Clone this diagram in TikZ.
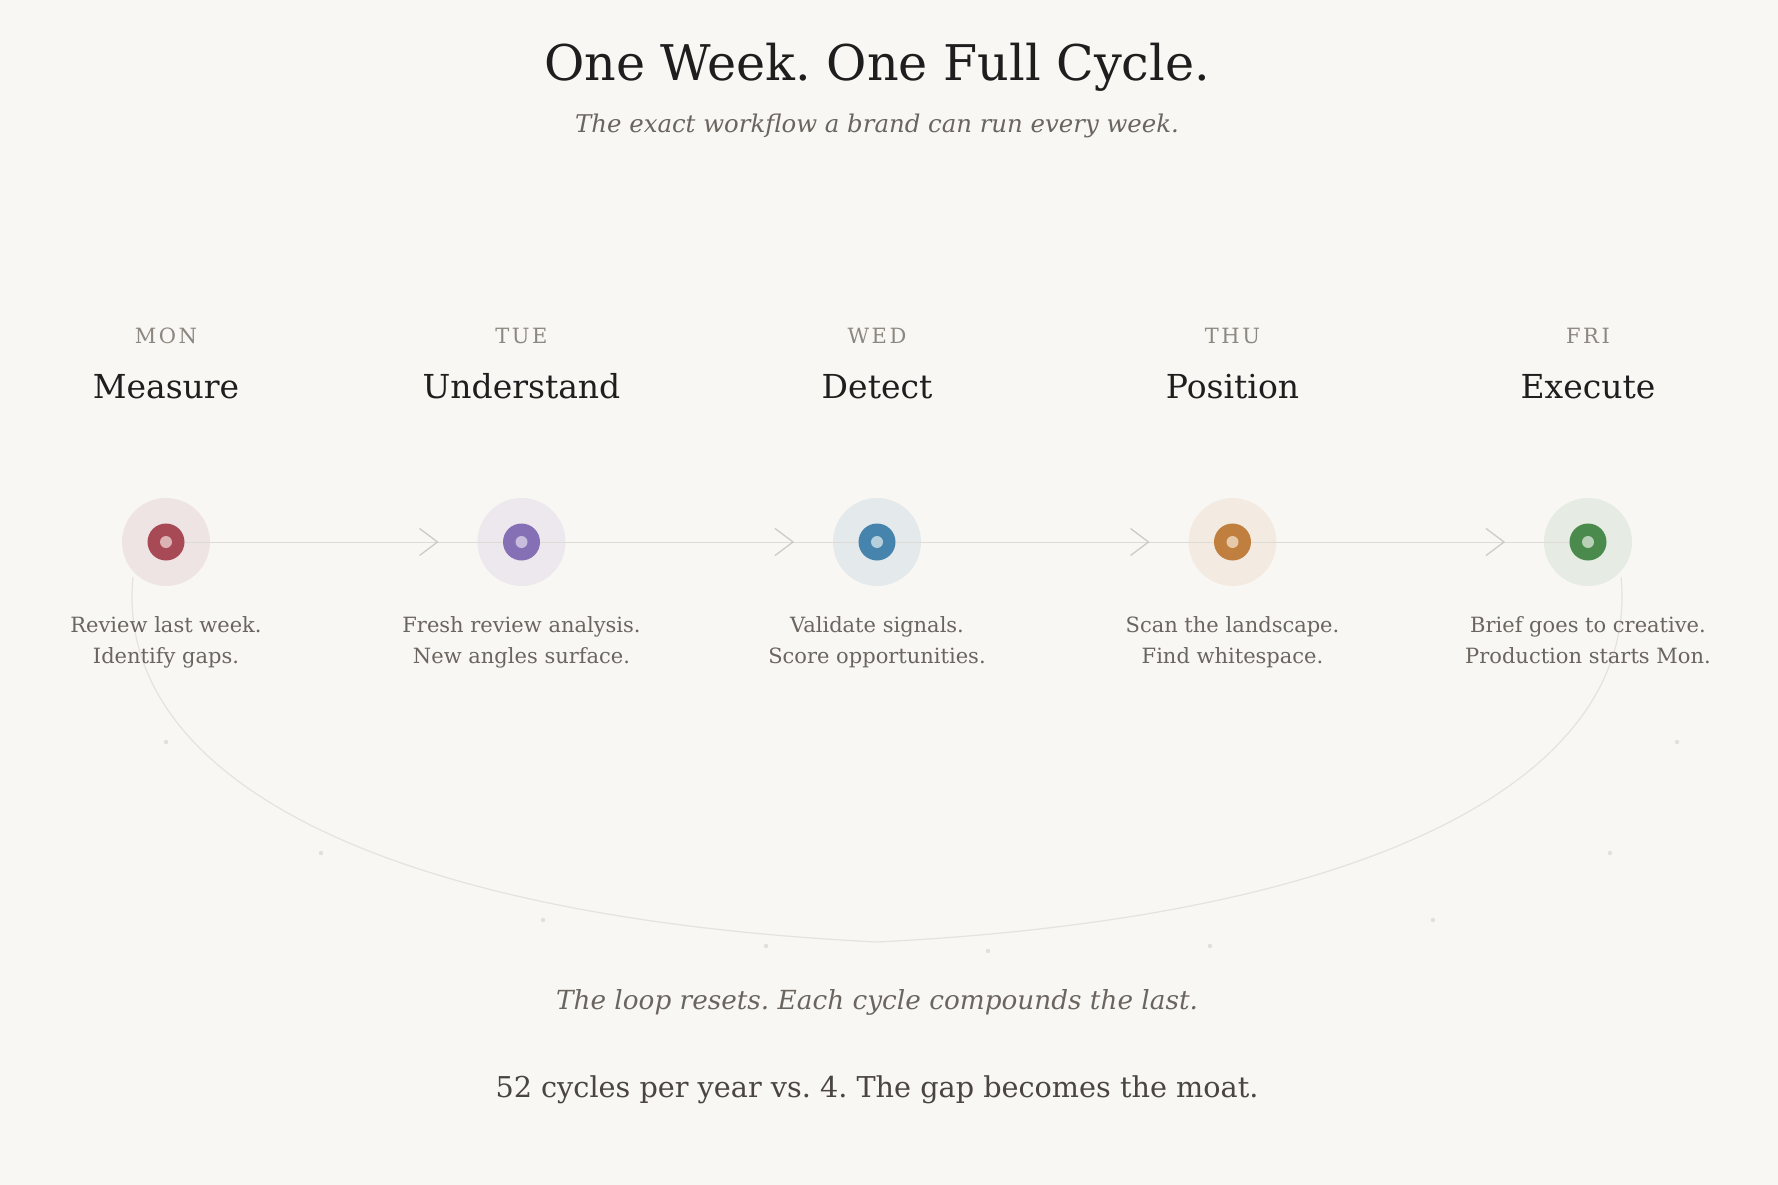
\documentclass[tikz,border=0pt]{standalone}
\usepackage{fontspec}
\setmainfont{DejaVu Serif}
\newfontfamily\dayfont[LetterSpace=12]{DejaVu Serif}
\frenchspacing
\definecolor{bg}{HTML}{F9F7F3}
\definecolor{ink}{HTML}{1E1E1E}
\definecolor{soft}{HTML}{6B6560}
\definecolor{dayc}{HTML}{8C8780}
\definecolor{linec}{HTML}{DEDAD5}
\definecolor{chev}{HTML}{CFCAC4}
\definecolor{loopc}{HTML}{E6E2DD}
\definecolor{dotc}{HTML}{E3DFDA}
\definecolor{bottom}{HTML}{4A4540}
\definecolor{redA}{HTML}{A84A55}\definecolor{redH}{HTML}{EFE4E4}\definecolor{redC}{HTML}{DCB3B5}
\definecolor{purA}{HTML}{8670B5}\definecolor{purH}{HTML}{ECE8EE}\definecolor{purC}{HTML}{C9BDDD}
\definecolor{bluA}{HTML}{4784AD}\definecolor{bluH}{HTML}{E4E9EC}\definecolor{bluC}{HTML}{B5CFDC}
\definecolor{oraA}{HTML}{C07F3E}\definecolor{oraH}{HTML}{F3EBE2}\definecolor{oraC}{HTML}{E5C9A8}
\definecolor{grnA}{HTML}{4A8A4C}\definecolor{grnH}{HTML}{E6EBE4}\definecolor{grnC}{HTML}{B8D0B6}
\begin{document}
\begin{tikzpicture}[x=1pt,y=-1pt,
  halo/.style={circle,minimum size=88pt,inner sep=0pt,fill=#1},
  core/.style={circle,minimum size=37pt,inner sep=0pt,fill=#1},
  pip/.style={circle,minimum size=12pt,inner sep=0pt,fill=#1},
  daylbl/.style={anchor=base,text=dayc,font=\dayfont\fontsize{21}{25}\selectfont},
  steplbl/.style={anchor=base,text=ink,font=\fontsize{33}{40}\selectfont},
  desc/.style={anchor=base,text=soft,align=center,font=\fontsize{21}{31}\selectfont},
  chevron/.style={draw=chev,line width=1.3pt},
  flow/.style={draw=linec,line width=1pt},
  loopline/.style={draw=loopc,line width=1.2pt},
  speck/.style={fill=dotc}]
\fill[bg] (0,0) rectangle (1778,1185);
\useasboundingbox (0,0) rectangle (1778,1185);

\node[anchor=base,text=ink,font=\fontsize{49.2}{58}\selectfont] (title) at (877,81) {One Week. One Full Cycle.};
\node[anchor=base,text=soft,font=\itshape\fontsize{24.4}{29}\selectfont] (sub) at (877,133) {The exact workflow a brand can run every week.};

% loop curve
\coordinate (ls) at (133,577);
\coordinate (lb) at (877,942);
\coordinate (rs) at (1621,577);
\draw[loopline] (ls) .. controls (115,760) and (340,915) .. (lb)
  .. controls (1414,915) and (1639,760) .. (rs);
\foreach \p in {(166,742),(321,853),(543,920),(766,946),(988,951),(1210,946),(1433,920),(1610,853),(1677,742)}
  \fill[speck] \p circle (2.2);

% halos
\node[halo=redH] (h1) at (166,542) {};
\node[halo=purH] (h2) at (521.5,542) {};
\node[halo=bluH] (h3) at (877,542) {};
\node[halo=oraH] (h4) at (1232.5,542) {};
\node[halo=grnH] (h5) at (1588,542) {};

\draw[flow] (h1.center) -- (h5.center);
\foreach \i/\x in {1/437.5,2/793,3/1148.5,4/1504}{
  \coordinate (c\i) at (\x,542);
  \draw[chevron] ([xshift=-18pt,yshift=-13.5pt]c\i) -- (c\i) -- ([xshift=-18pt,yshift=13.5pt]c\i);
}

\foreach \n/\c in {1/red,2/pur,3/blu,4/ora,5/grn}{
  \node[core=\c A] (d\n) at (h\n.center) {};
  \node[pip=\c C] (p\n) at (h\n.center) {};
}

% labels
\foreach \n/\x/\day/\name/\la/\lb in {
  1/166/MON/Measure/Review last week./Identify gaps.,
  2/521.5/TUE/Understand/Fresh review analysis./New angles surface.,
  3/877/WED/Detect/Validate signals./Score opportunities.,
  4/1232.5/THU/Position/Scan the landscape./Find whitespace.,
  5/1588/FRI/Execute/Brief goes to creative./Production starts Mon.}{
  \node[daylbl] (day\n) at (\x,343) {\day};
  \node[steplbl] (name\n) at (\x,398) {\name};
  \node[desc] (da\n) at (\x,632) {\la};
  \node[desc] (db\n) at (\x,663) {\lb};
}

\node[anchor=base,text=soft,font=\itshape\fontsize{26.3}{30}\selectfont] (loopnote) at (877,1009) {The loop resets. Each cycle compounds the last.};
\node[anchor=base,text=bottom,font=\fontsize{28.7}{34}\selectfont] (moat) at (877,1097) {52 cycles per year vs. 4. The gap becomes the moat.};
\end{tikzpicture}
\end{document}
